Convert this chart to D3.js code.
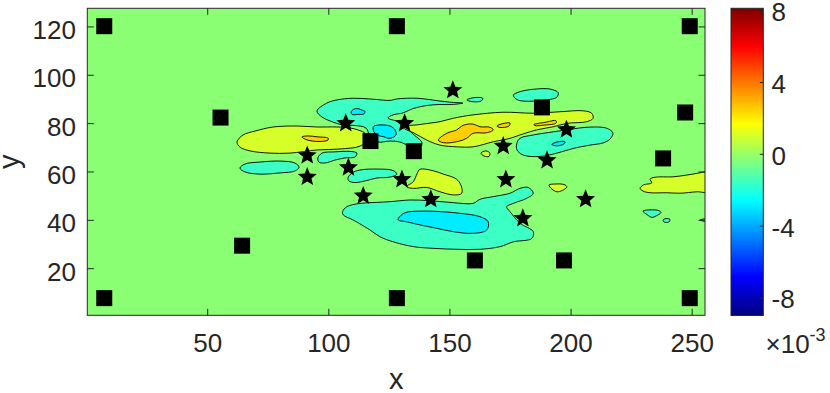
<!DOCTYPE html>
<html>
<head>
<meta charset="utf-8">
<script src="https://cdn.jsdelivr.net/npm/d3@7"></script>
<style>
  body { margin: 0; background: #fff; }
  text { font-family: "Liberation Sans", Arial, sans-serif; fill: #262626; }
</style>
</head>
<body>
<div id="chart"></div>
<script>
// ticks
const xTicks = [50, 100, 150, 200, 250];
const yTicks = [20, 40, 60, 80, 100, 120];
const cbTicks = [-8, -4, 0, 4, 8];

// markers (data units)
const squares = [
  [7.5, 120.1], [128.3, 120.1], [249.2, 120.1],
  [7.5, 7.6], [128.3, 7.6], [249.2, 7.6],
  [55.5, 82.3], [64.4, 29.3], [247.3, 84.4], [238.2, 65.4],
  [188.2, 86.5], [160.5, 23.2], [197.3, 23.2], [117.4, 72.6], [135.3, 68.4]
];
const stars = [
  [151.4, 93.6], [107.2, 79.9], [131.5, 79.9], [91.3, 66.6], [91.3, 57.7],
  [108.3, 61.6], [130.4, 56.7], [114.4, 49.9], [142.3, 48.5], [172.2, 70.5],
  [173.3, 56.7], [190.3, 64.6], [198.3, 77.3], [180.3, 40.6], [206.2, 48.5]
];

// contour levels (x 1e-3)
const bgLevel = -0.25;
const lvYellow = 1.0;
const lvOrange = 2.5;
const lvCyanL = -1.6;
const lvCyanD = -2.9;

// contour patches (x, y in data units)
const cyanB = [[95.3,85.0],[99.4,88.3],[103.6,89.6],[110.2,90.3],[118.4,89.9],[125.5,89.4],[128.3,90.0],[136.6,90.3],[144.9,89.3],[151.0,88.6],[155.6,88.3],[151.0,87.7],[146.1,87.7],[140.7,87.3],[134.9,86.0],[130.8,84.2],[126.7,83.4],[124.6,82.1],[127.9,80.9],[131.2,79.2],[134.5,75.9],[138.7,71.8],[137.8,70.1],[133.7,70.5],[129.5,72.2],[125.5,72.6],[120.5,72.2],[117.2,74.7],[115.5,78.0],[111.0,79.0],[106.1,79.2],[100.7,80.9],[97.4,82.5]];
const yellowA = [[62.3,72.2],[64.8,75.1],[69.7,76.7],[77.2,78.4],[87.1,78.8],[95.3,78.4],[103.6,78.4],[108.9,78.0],[112.2,77.2],[115.5,75.5],[116.0,73.0],[113.1,70.5],[104.8,69.3],[95.3,68.9],[84.2,67.6],[75.9,67.6],[67.7,68.5],[63.5,70.1]];
const orangeA = [[89.1,74.3],[91.6,74.7],[95.7,74.3],[99.9,73.8],[99.9,73.0],[96.6,72.4],[93.3,72.6],[90.8,73.2]];
const yellowC = [[130.4,78.8],[135.8,79.2],[142.0,80.0],[146.1,80.6],[151.5,82.0],[159.7,83.4],[172.1,84.5],[184.5,84.1],[195.6,84.7],[205.1,85.1],[208.7,84.1],[209.3,82.0],[206.7,80.6],[198.4,79.9],[192.9,78.5],[186.0,77.2],[179.1,75.1],[175.0,73.7],[168.1,72.3],[159.8,70.2],[153.0,70.2],[146.1,70.9],[140.6,73.0],[135.4,75.9],[131.6,77.6]];
const orangeC = [[145.4,73.0],[148.9,75.8],[153.0,77.2],[155.1,78.8],[157.1,79.5],[159.8,79.6],[162.6,78.5],[166.7,78.3],[168.1,77.2],[165.4,76.0],[159.8,75.8],[157.1,73.7],[153.0,72.3],[147.5,71.9]];
const orangeC2 = [[169.6,78.8],[172.1,79.8],[175.0,80.0],[174.6,78.8],[170.9,78.2]];
const orangeC3 = [[184.9,79.4],[189.4,80.3],[194.0,81.0],[194.0,80.0],[189.4,79.2],[185.3,79.0]];
const cyanL1 = [[63.5,61.4],[65.6,63.1],[71.8,63.9],[80.0,64.3],[86.2,63.5],[87.9,61.8],[86.2,60.2],[80.0,59.4],[71.8,58.9],[65.6,59.8]];
const cyanL2 = [[95.7,65.6],[97.4,67.6],[102.7,68.1],[108.9,68.3],[111.8,67.6],[111.0,66.0],[106.9,65.6],[102.7,64.7],[98.6,63.5],[96.1,63.9]];
const cyanL3 = [[108.1,57.3],[109.8,59.4],[113.1,60.6],[120.1,61.0],[126.7,60.4],[128.3,58.9],[125.5,57.7],[120.1,57.3],[116.0,56.3],[111.0,55.4],[108.5,56.1]];
const cyanBig = [[105.9,43.4],[107.6,45.4],[113.1,46.8],[120.0,47.2],[125.5,47.5],[133.7,48.2],[142.0,47.9],[151.6,47.1],[159.8,46.8],[162.6,48.5],[168.1,49.6],[175.0,51.0],[179.1,53.0],[182.5,53.4],[184.6,51.0],[181.9,48.9],[176.4,46.8],[173.6,45.4],[175.0,43.4],[179.1,38.6],[184.6,35.1],[184.0,32.3],[176.4,30.9],[170.9,28.9],[162.6,27.8],[153.0,27.8],[143.3,28.2],[135.1,28.9],[126.8,30.9],[121.3,33.0],[117.2,35.8],[110.3,39.9],[106.2,42.0]];
const cyanDeep1 = [[128.9,40.6],[131.6,42.9],[137.8,43.6],[146.1,43.4],[154.4,42.7],[162.6,41.3],[166.0,39.2],[165.4,35.8],[159.8,34.4],[151.6,35.1],[144.7,36.5],[137.8,37.9],[132.3,39.2],[128.9,39.9]];
const yellowB = [[132.3,53.7],[135.1,55.8],[136.7,59.2],[137.8,60.9],[143.3,60.3],[147.5,58.9],[152.3,57.2],[154.4,55.1],[155.1,51.0],[151.6,50.3],[146.1,51.6],[140.6,53.4],[135.1,53.0]];
const cyanDeep2 = [[118.6,78.5],[120.6,79.2],[125.5,78.8],[127.5,77.2],[127.9,75.1],[125.5,73.7],[122.7,74.4],[120.0,75.1],[118.8,76.4]];
const cyanDeep3 = [[109.4,84.6],[110.6,85.8],[112.2,86.0],[113.9,85.4],[115.1,84.8],[114.7,83.8],[112.2,83.6],[109.8,83.6]];
const cyanS1 = [[157.2,89.6],[159.3,90.4],[162.6,90.6],[163.8,90.2],[163.0,89.1],[159.3,88.9]];
const cyanR1 = [[176.4,91.6],[179.1,93.0],[184.6,94.0],[191.5,94.1],[194.9,92.6],[194.3,90.7],[190.1,89.6],[184.6,89.1],[179.1,89.3],[177.1,90.3]];
const cyanR2 = [[177.8,71.6],[179.1,73.7],[184.6,75.1],[192.9,76.4],[199.8,77.4],[206.7,78.3],[214.9,77.9],[217.5,75.9],[216.3,73.4],[213.4,71.8],[208.0,70.9],[201.0,69.5],[194.4,67.6],[187.4,66.2],[180.4,66.8],[177.9,68.9]];
const cyanDeep4 = [[192.3,71.2],[194.4,72.2],[197.7,72.3],[197.3,71.4],[194.0,70.6]];
const yellowR = [[228.7,53.0],[230.0,54.4],[233.5,55.3],[232.8,56.8],[234.8,57.6],[242.4,57.8],[247.9,58.5],[252.1,59.2],[255.5,59.8],[256.5,59.8],[256.5,51.7],[252.1,51.6],[245.2,51.0],[239.7,51.2],[232.8,51.2],[229.9,51.9]];
const yellowS1 = [[191.1,54.4],[193.6,54.8],[197.3,54.6],[198.5,53.6],[196.5,52.1],[194.4,51.6],[192.3,52.7]];
const yellowS2 = [[163.0,67.6],[165.1,68.5],[166.7,67.6],[166.3,66.2],[164.3,66.4]];
const cyanS2 = [[229.9,43.6],[232.8,44.1],[236.5,43.8],[237.3,43.0],[235.3,41.6],[233.6,41.0],[231.5,42.2]];
const cyanS3 = [[238.2,39.9],[239.4,40.5],[241.0,40.2],[240.6,39.1],[238.6,39.1]];
const cyanS4 = [[253.4,39.9],[254.7,40.3],[256.5,40.3],[256.5,39.4],[254.7,39.5]];

const patches = [
  { level: lvCyanL, pts: cyanB },
  { level: lvCyanD, pts: cyanDeep2 },
  { level: lvCyanD, pts: cyanDeep3 },
  { level: lvYellow, pts: yellowA },
  { level: lvOrange, pts: orangeA },
  { level: lvYellow, pts: yellowC },
  { level: lvOrange, pts: orangeC },
  { level: lvOrange, pts: orangeC2 },
  { level: lvOrange, pts: orangeC3 },
  { level: lvCyanL, pts: cyanL1 },
  { level: lvCyanL, pts: cyanL2 },
  { level: lvCyanL, pts: cyanL3 },
  { level: lvCyanL, pts: cyanBig },
  { level: lvCyanD, pts: cyanDeep1 },
  { level: lvYellow, pts: yellowB },
  { level: lvCyanL, pts: cyanS1 },
  { level: lvCyanL, pts: cyanR1 },
  { level: lvCyanL, pts: cyanR2 },
  { level: lvCyanD, pts: cyanDeep4 },
  { level: lvYellow, pts: yellowR },
  { level: lvYellow, pts: yellowS1 },
  { level: lvYellow, pts: yellowS2 },
  { level: lvCyanL, pts: cyanS2 },
  { level: lvCyanL, pts: cyanS3 },
  { level: lvCyanL, pts: cyanS4 }
];

const w = 830;
const h = 393;
const plot = { left: 87.3, right: 705, top: 8.3, bottom: 315.3 };
const cbar = { left: 731, right: 763.3, top: 8.3, bottom: 315.5 };

// jet colormap
function jet(t) {
  const c = v => Math.max(0, Math.min(1, v));
  return d3.rgb(255 * c(1.5 - Math.abs(4 * t - 3)),
                255 * c(1.5 - Math.abs(4 * t - 2)),
                255 * c(1.5 - Math.abs(4 * t - 1)));
}
const cNorm = d3.scaleLinear().domain([-9.0, 8.1]).range([0, 1]).clamp(true);
const color = v => jet(cNorm(v)).formatHex();

// a slightly fatter five point star, like the matlab pentagram
const pentagram = {
  draw(ctx, size) {
    const r = Math.sqrt(size);
    const ri = r * 0.44;
    for (let i = 0; i < 10; i++) {
      const a = -Math.PI / 2 + i * Math.PI / 5;
      const rr = i % 2 ? ri : r;
      if (i === 0) ctx.moveTo(rr * Math.cos(a), rr * Math.sin(a));
      else ctx.lineTo(rr * Math.cos(a), rr * Math.sin(a));
    }
    ctx.closePath();
  }
};

const xScale = d3.scaleLinear().domain([0.5, 255.5]).range([plot.left, plot.right]);
const yScale = d3.scaleLinear().domain([0.5, 127.5]).range([plot.bottom, plot.top]);
const cScale = d3.scaleLinear().domain([-9.0, 8.1]).range([cbar.bottom, cbar.top]);

const svg = d3.select('#chart')
  .append('svg')
  .attr('width', w)
  .attr('height', h);

const defs = svg.append('defs');
defs.append('clipPath').attr('id', 'clip')
  .append('rect')
  .attr('x', plot.left).attr('y', plot.top)
  .attr('width', plot.right - plot.left)
  .attr('height', plot.bottom - plot.top);

const grad = defs.append('linearGradient')
  .attr('id', 'jetgrad')
  .attr('x1', 0).attr('y1', 1).attr('x2', 0).attr('y2', 0);
d3.range(0, 65).forEach(i => {
  grad.append('stop')
    .attr('offset', i / 64)
    .attr('stop-color', jet(i / 64).formatHex());
});

// contour field
const field = svg.append('g').attr('clip-path', 'url(#clip)');
field.append('rect')
  .attr('x', plot.left).attr('y', plot.top)
  .attr('width', plot.right - plot.left)
  .attr('height', plot.bottom - plot.top)
  .attr('fill', color(bgLevel));

const line = d3.line()
  .x(d => xScale(d[0]))
  .y(d => yScale(d[1]))
  .curve(d3.curveCatmullRomClosed.alpha(0.5));

field.selectAll('path.patch')
  .data(patches)
  .enter()
  .append('path')
  .attr('class', 'patch')
  .attr('d', d => line(d.pts))
  .attr('fill', d => color(d.level))
  .attr('stroke', '#000')
  .attr('stroke-width', 0.9);

// markers
field.selectAll('rect.sq')
  .data(squares)
  .enter()
  .append('rect')
  .attr('class', 'sq')
  .attr('x', d => xScale(d[0]) - 8)
  .attr('y', d => yScale(d[1]) - 8)
  .attr('width', 16)
  .attr('height', 16)
  .attr('fill', '#000');

field.selectAll('path.star')
  .data(stars)
  .enter()
  .append('path')
  .attr('class', 'star')
  .attr('transform', d => 'translate(' + xScale(d[0]) + ',' + yScale(d[1]) + ')')
  .attr('d', d3.symbol(pentagram, 100))
  .attr('fill', '#000');

// axes (ticks inward on all sides)
const tl = 6.5;
const fmt = d => String(d);

const xb = svg.append('g')
  .attr('transform', 'translate(0,' + plot.bottom + ')')
  .call(d3.axisBottom(xScale).tickValues(xTicks).tickSize(-tl).tickPadding(18).tickFormat(fmt));
const xt = svg.append('g')
  .attr('transform', 'translate(0,' + plot.top + ')')
  .call(d3.axisTop(xScale).tickValues(xTicks).tickSize(-tl).tickFormat(''));
const yl = svg.append('g')
  .attr('transform', 'translate(' + plot.left + ',0)')
  .call(d3.axisLeft(yScale).tickValues(yTicks).tickSize(-tl).tickPadding(11.3).tickFormat(fmt));
const yr = svg.append('g')
  .attr('transform', 'translate(' + plot.right + ',0)')
  .call(d3.axisRight(yScale).tickValues(yTicks).tickSize(-tl).tickFormat(''));

[xb, xt, yl, yr].forEach(g => {
  g.select('.domain').remove();
  g.selectAll('line').attr('stroke', '#262626');
  g.selectAll('text').attr('font-size', 26).attr('fill', '#262626')
    .attr('font-family', '"Liberation Sans", Arial, sans-serif');
});
yl.selectAll('text').attr('dy', '0.46em');

svg.append('rect')
  .attr('x', plot.left).attr('y', plot.top)
  .attr('width', plot.right - plot.left)
  .attr('height', plot.bottom - plot.top)
  .attr('fill', 'none')
  .attr('stroke', '#262626')
  .attr('stroke-width', 1);

// axis labels
svg.append('text')
  .attr('x', (plot.left + plot.right) / 2)
  .attr('y', 389)
  .attr('text-anchor', 'middle')
  .attr('font-size', 29)
  .text('x');

svg.append('text')
  .attr('transform', 'translate(19,' + (plot.top + plot.bottom) / 2 + ') rotate(-90)')
  .attr('text-anchor', 'middle')
  .attr('font-size', 29)
  .text('y');

// colorbar
svg.append('rect')
  .attr('x', cbar.left).attr('y', cbar.top)
  .attr('width', cbar.right - cbar.left)
  .attr('height', cbar.bottom - cbar.top)
  .attr('fill', 'url(#jetgrad)')
  .attr('stroke', '#262626')
  .attr('stroke-width', 1);

const cb = svg.append('g')
  .attr('transform', 'translate(' + cbar.right + ',0)')
  .call(d3.axisRight(cScale).tickValues(cbTicks).tickSize(-3.5).tickPadding(8.3).tickFormat(fmt));
cb.select('.domain').remove();
cb.selectAll('line').attr('stroke', '#262626');
cb.selectAll('text').attr('font-size', 26).attr('fill', '#262626').attr('dy', '0.4em')
  .attr('font-family', '"Liberation Sans", Arial, sans-serif');

const expo = svg.append('text')
  .attr('x', 765.5)
  .attr('y', 353)
  .attr('font-size', 26);
expo.append('tspan').text('\u00d710');
expo.append('tspan').attr('font-size', 18).attr('dy', -12).text('-3');
</script>
</body>
</html>
